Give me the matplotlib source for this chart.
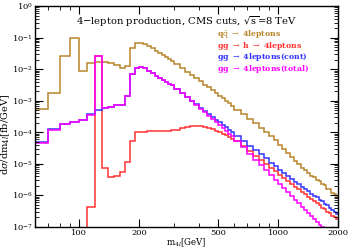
import numpy as np
import matplotlib
matplotlib.use("Agg")
import matplotlib.pyplot as plt

# ---- data: bin edges (GeV) ----
edges = np.array(list(range(60, 300, 10)) + list(range(300, 600, 20)) + list(range(600, 2001, 50)))

# log10 of dsigma/dm4l [fb/GeV] per bin
log_qq = [-3.27, -2.77, -1.58, -1.02, -2.05, -1.82, -1.76, -1.76, -1.82, -1.87, -1.95, -1.89,
          -1.34, -1.18, -1.16, -1.20, -1.27, -1.34, -1.41, -1.48, -1.55, -1.62, -1.68, -1.75,
          -1.85, -1.97, -2.08, -2.19, -2.29, -2.39, -2.49, -2.58, -2.67, -2.76, -2.84, -2.92, -3.00, -3.08, -3.16,
          -3.28, -3.43, -3.57, -3.71, -3.85, -3.98, -4.12, -4.26, -4.40, -4.53, -4.66, -4.79, -4.91, -5.02,
          -5.13, -5.21, -5.28, -5.37, -5.42, -5.52, -5.55, -5.65, -5.68, -5.79, -5.81, -5.93, -5.95, -6.03]

log_h = [-9.0, -9.0, -9.0, -9.0, -9.0, -6.36, -1.59, -5.12, -5.41, -5.38, -5.25, -4.95,
         -4.28, -4.00, -3.98, -3.98, -3.97, -3.97, -3.97, -3.96, -3.96, -3.95, -3.95, -3.94,
         -3.92, -3.88, -3.84, -3.81, -3.80, -3.81, -3.83, -3.86, -3.90, -3.95, -4.00, -4.05, -4.10, -4.15, -4.20,
         -4.29, -4.45, -4.60, -4.74, -4.87, -5.00, -5.13, -5.24, -5.35, -5.45, -5.55, -5.64, -5.73, -5.81,
         -5.89, -5.97, -6.04, -6.11, -6.18, -6.25, -6.30, -6.40, -6.42, -6.53, -6.55, -6.65, -6.68, -6.76]

log_cont = [-4.30, -3.91, -3.74, -3.68, -3.60, -3.43, -3.29, -3.22, -3.19, -3.15, -3.12, -2.85,
            -2.16, -1.96, -1.93, -1.95, -2.06, -2.13, -2.21, -2.29, -2.35, -2.41, -2.46, -2.51,
            -2.62, -2.75, -2.88, -3.00, -3.11, -3.22, -3.32, -3.41, -3.51, -3.60, -3.68, -3.76, -3.84, -3.92, -3.99,
            -4.12, -4.28, -4.43, -4.57, -4.70, -4.83, -4.96, -5.07, -5.18, -5.28, -5.38, -5.47, -5.56, -5.64,
            -5.72, -5.80, -5.87, -5.94, -6.01, -6.06, -6.15, -6.19, -6.27, -6.30, -6.40, -6.45, -6.52, -6.60]

log_tot = [-4.35, -3.93, -3.75, -3.69, -3.61, -3.44, -1.58, -3.22, -3.19, -3.15, -3.12, -2.85,
           -2.16, -1.96, -1.93, -1.95, -2.06, -2.13, -2.21, -2.29, -2.35, -2.41, -2.46, -2.51,
           -2.62, -2.76, -2.89, -3.02, -3.14, -3.25, -3.36, -3.47, -3.57, -3.67, -3.77, -3.86, -3.95, -4.04, -4.13,
           -4.27, -4.48, -4.68, -4.87, -5.04, -5.21, -5.36, -5.51, -5.65, -5.78, -5.90, -6.02, -6.14, -6.25,
           -6.36, -6.46, -6.56, -6.66, -6.75, -6.84, -6.93, -7.01, -7.09, -7.17, -7.25, -7.33, -7.40, -7.47]

series = [
    (log_qq, "#b8862b"),
    (log_h, "#ff3333"),
    (log_cont, "#3333ff"),
    (log_tot, "#ff00ff"),
]
labels = [r"q$\bar{\rm q}$ $\rightarrow$ 4leptons",
          r"gg $\rightarrow$ h $\rightarrow$ 4leptons",
          r"gg $\rightarrow$ 4leptons(cont)",
          r"gg $\rightarrow$ 4leptons(total)"]
title = r"4$-$lepton production, CMS cuts, $\sqrt{\rm s}$=8 TeV"
xticks = [100, 200, 500, 1000, 2000]

plt.rcParams['font.family'] = ['DejaVu Serif']
plt.rcParams['mathtext.fontset'] = 'dejavuserif'

fig = plt.figure(figsize=(3.48, 2.49), dpi=100)
ax = fig.add_axes([35 / 348, 1 - 227 / 249, 303 / 348, 221 / 249])

for vals, col in series:
    ax.stairs(10.0 ** np.array(vals), edges, color=col, lw=1.1, baseline=None)

ax.set_xscale('log')
ax.set_yscale('log')
ax.set_xlim(60, 2000)
ax.set_ylim(1e-7, 1)
ax.set_xticks(xticks)
ax.set_xticklabels([str(t) for t in xticks])
ax.yaxis.set_major_locator(matplotlib.ticker.LogLocator(base=10, numticks=10))
ax.yaxis.set_minor_locator(matplotlib.ticker.LogLocator(base=10, subs=np.arange(2, 10), numticks=10))
ax.tick_params(which='both', direction='in', top=True, right=True, labelsize=6, pad=1.5)
ax.tick_params(which='minor', labelbottom=False, labelleft=False)
ax.tick_params(which='major', length=6, width=0.8)
ax.tick_params(which='minor', length=3, width=0.6)
for s in ax.spines.values():
    s.set_linewidth(1.0)

ax.text(0.5, 0.93, title, transform=ax.transAxes, ha='center', va='center', fontsize=7.2)
cols = [c for _, c in series]
for i, (lab, col) in enumerate(zip(labels, cols)):
    ax.text(0.602, 0.872 - i * 0.0525, lab, transform=ax.transAxes, ha='left', va='center',
            fontsize=5.6, color=col, fontweight='bold')

ax.set_xlabel(r"m$_{4l}$[GeV]", fontsize=6.2)
ax.xaxis.set_label_coords(0.5, -0.072)
ax.xaxis.label.set_va('center')
ax.set_ylabel(r"d$\sigma$/dm$_{4l}$[fb/GeV]", fontsize=7)
ax.yaxis.set_label_coords(-0.098, 0.42)
ax.yaxis.label.set_va('center')

fig.savefig("out.png", dpi=100)
